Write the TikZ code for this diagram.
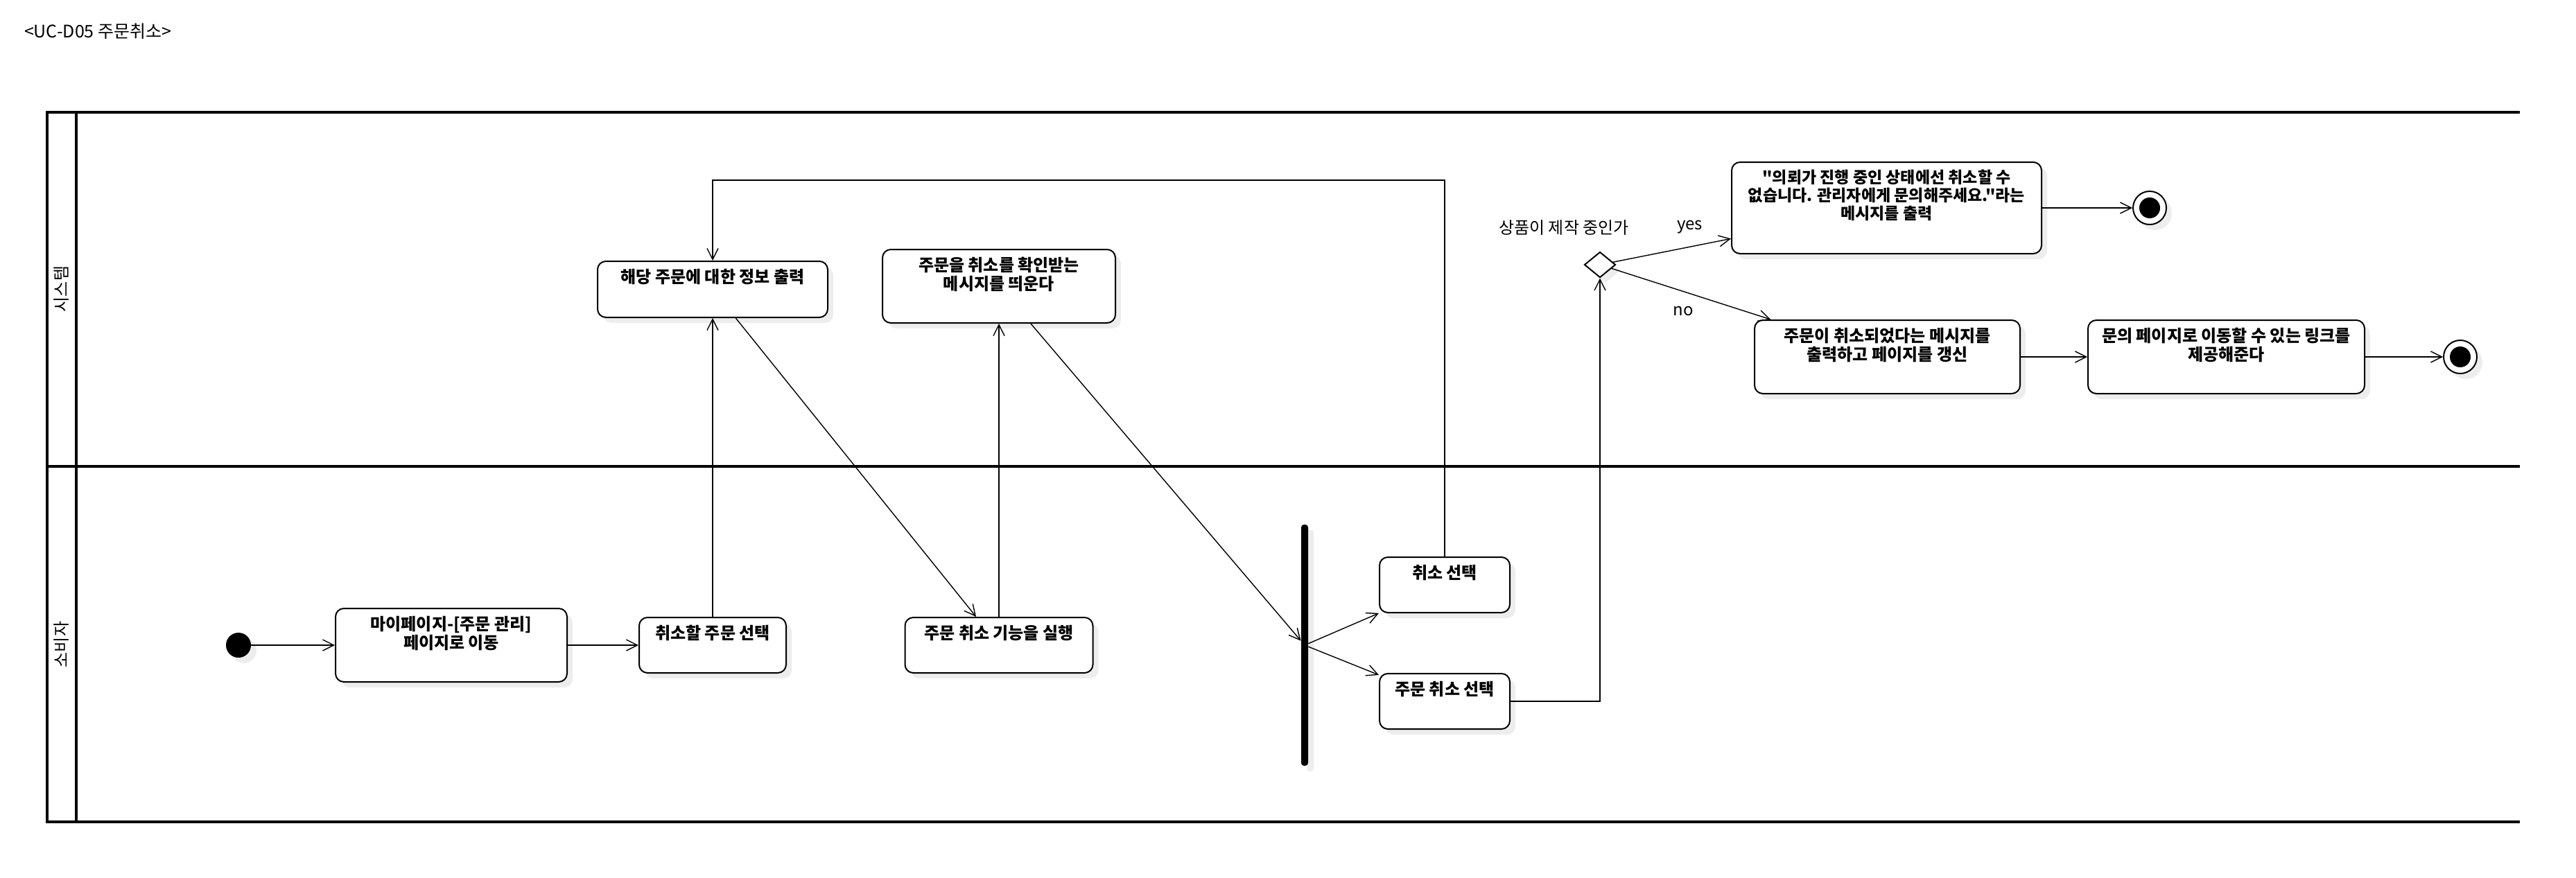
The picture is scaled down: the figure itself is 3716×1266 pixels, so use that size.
\documentclass[tikz,border=0pt]{standalone}
\usepackage{fontspec}
\setmainfont{Noto Sans CJK KR}[Ligatures=TeXOff]
\usetikzlibrary{arrows.meta,positioning,shapes.geometric,shadows}

\tikzset{
  act/.style={draw, line width=1pt, rounded corners=6pt, fill=white, inner sep=0pt,
    drop shadow={shadow xshift=4pt, shadow yshift=-4pt, fill=black!7, opacity=1}},
  acttext/.style={anchor=north, font=\bfseries\fontsize{12}{13.5}\selectfont, align=center, inner sep=6pt},
  flow/.style={-{Straight Barb[length=8pt,width=8pt]}, line width=0.7pt},
  lane/.style={line width=1.9pt},
  start/.style={circle, fill=black, minimum size=18pt, inner sep=0pt,
    drop shadow={shadow xshift=4pt, shadow yshift=-4pt, fill=black!7, opacity=1}},
  final/.style={circle, draw, line width=1pt, fill=white, minimum size=24pt, inner sep=0pt,
    drop shadow={shadow xshift=4pt, shadow yshift=-4pt, fill=black!7, opacity=1},
    path picture={\fill[black] (path picture bounding box.center) circle (7.5pt);}},
  forkbar/.style={fill=black, rounded corners=2pt, minimum width=5pt, minimum height=174pt, inner sep=0pt,
    drop shadow={shadow xshift=4pt, shadow yshift=-4pt, fill=black!7, opacity=1}},
  choice/.style={diamond, draw, line width=1pt, fill=white, minimum width=22.5pt, minimum height=18.5pt, inner sep=0pt,
    drop shadow={shadow xshift=4pt, shadow yshift=-4pt, fill=black!7, opacity=1}},
}

\begin{document}
\begin{tikzpicture}[x=0.5pt, y=-0.5pt, font=\fontsize{12}{13.5}\selectfont]
  \useasboundingbox (0,0) rectangle (3716,1266);

  % pool and lanes
  \draw[lane] (3635,162) -- (68,162) -- (68,1186) -- (3635,1186);
  \draw[lane] (68,673) -- (3635,673);
  \draw[lane] (110,162) -- (110,1186);
  \node[anchor=west, font=\fontsize{12.5}{14}\selectfont] (title) at (28,45) {<UC-D05 주문취소>};
  \node[rotate=90] (sys) at (89,417) {시스템};
  \node[rotate=90] (cust) at (89,930) {소비자};

  % consumer lane
  \node[start] (init) at (344,931) {};
  \node[act, minimum width=167pt, minimum height=53pt,
    label={[acttext]north:{마이페이지-[주문 관리]\\페이지로 이동}}] (mypage) at (651,931) {};
  \node[act, minimum width=106pt, minimum height=40pt,
    label={[acttext]north:{취소할 주문 선택}}] (selorder) at (1028,931) {};
  \node[act, minimum width=135.5pt, minimum height=40pt,
    label={[acttext]north:{주문 취소 기능을 실행}}] (run) at (1441,931) {};
  \node[forkbar] (fork) at (1882,931) {};
  \node[act, minimum width=94pt, minimum height=40pt,
    label={[acttext]north:{취소 선택}}] (cancel) at (2084,844) {};
  \node[act, minimum width=94pt, minimum height=40pt,
    label={[acttext]north:{주문 취소 선택}}] (ordcancel) at (2084,1012) {};

  % system lane
  \node[act, minimum width=166pt, minimum height=40.5pt,
    label={[acttext]north:{해당 주문에 대한 정보 출력}}] (info) at (1028,417.5) {};
  \node[act, minimum width=168pt, minimum height=53pt,
    label={[acttext]north:{주문을 취소를 확인받는\\메시지를 띄운다}}] (confirm) at (1441,413) {};
  \node[choice] (check) at (2308,382) {};
  \node[above=8pt of check, xshift=-26pt] (checkq) {상품이 제작 중인가};
  \node[act, minimum width=223.5pt, minimum height=66pt,
    label={[acttext, font=\bfseries\fontsize{11.5}{13}\selectfont]north:{"의뢰가 진행 중인 상태에선 취소할 수\\없습니다. 관리자에게 문의해주세요."라는\\메시지를 출력}}] (busy) at (2721.5,300) {};
  \node[final] (end1) at (3101,300) {};
  \node[act, minimum width=191.5pt, minimum height=53pt,
    label={[acttext]north:{주문이 취소되었다는 메시지를\\출력하고 페이지를 갱신}}] (done) at (2722.5,515) {};
  \node[act, minimum width=199.5pt, minimum height=53pt,
    label={[acttext]north:{문의 페이지로 이동할 수 있는 링크를\\제공해준다}}] (link) at (3211.5,515) {};
  \node[final] (end2) at (3549,515) {};

  \coordinate (looptop) at (1500,260);

  \path[flow] (init) edge (mypage);
  \path[flow] (mypage) edge (selorder);
  \path[flow] (selorder) edge (info);
  \path[flow] (info) edge (run);
  \path[flow] (run) edge (confirm);
  \path[flow] (confirm) edge (fork);
  \path[flow] (fork) edge (cancel);
  \path[flow] (fork) edge (ordcancel);
  \draw[flow] (cancel.north) -- (cancel.north |- looptop) -| (info.north);
  \draw[flow] (ordcancel.east) -| (check.south);
  \path[flow] (check) edge node[pos=0.65, above=6pt] {yes} (busy);
  \path[flow] (check) edge node[pos=0.45, below=7pt] {no} (done);
  \path[flow] (busy) edge (end1);
  \path[flow] (done) edge (link);
  \path[flow] (link) edge (end2);
\end{tikzpicture}
\end{document}
